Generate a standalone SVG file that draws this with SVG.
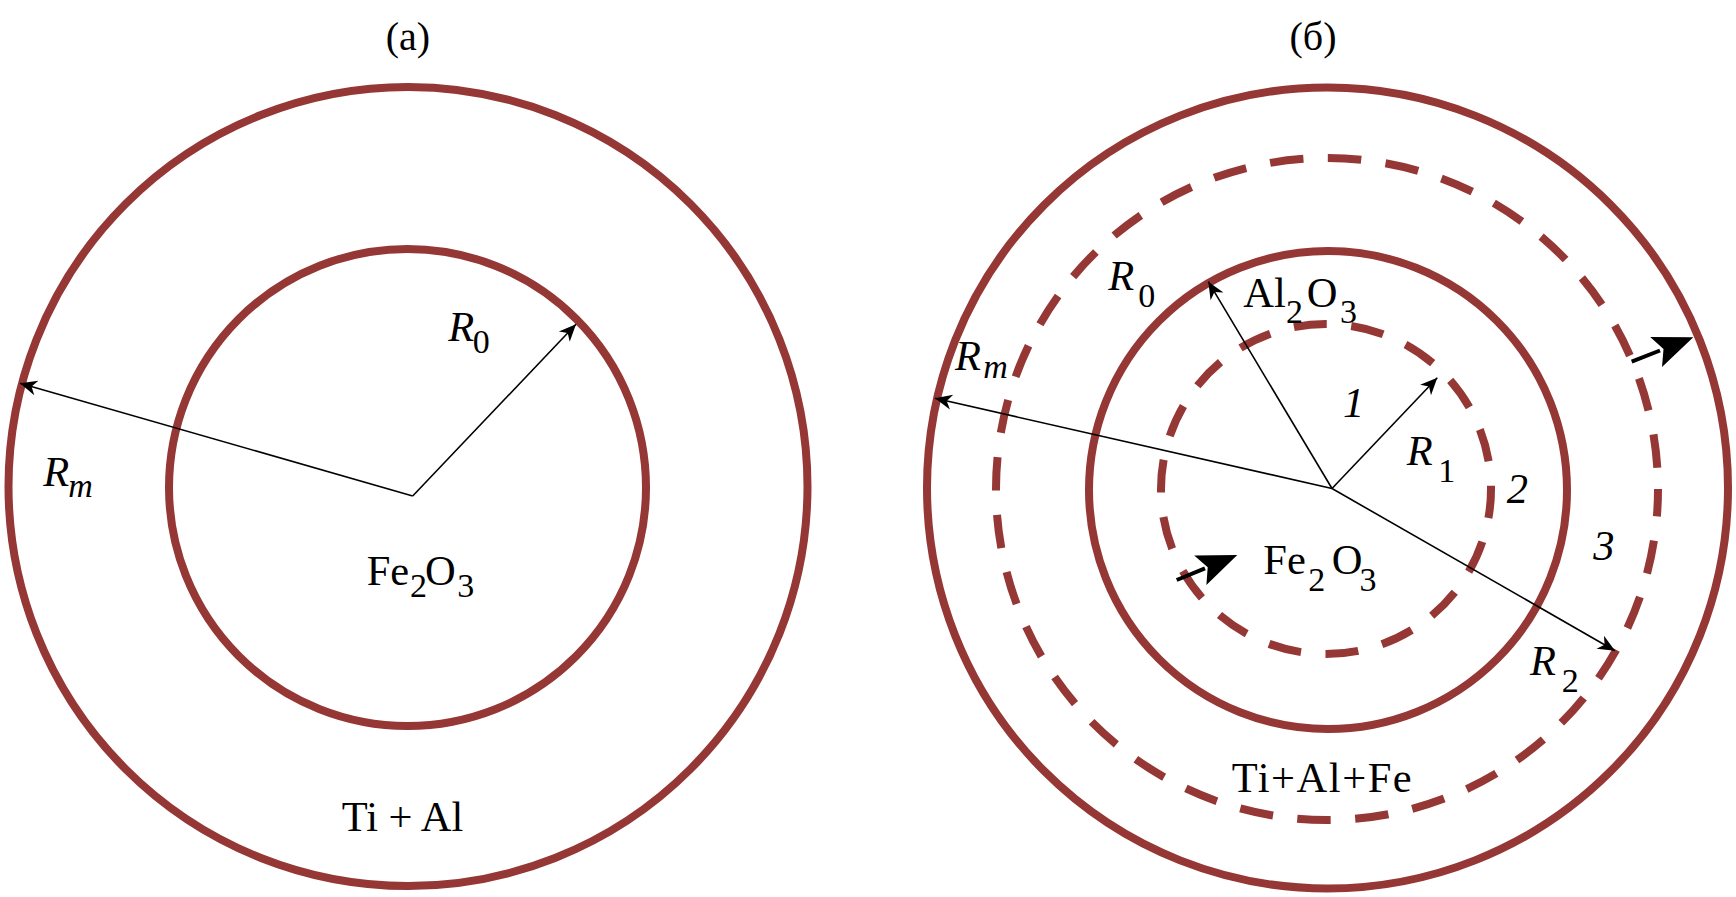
<svg xmlns="http://www.w3.org/2000/svg" width="1736" height="897" viewBox="0 0 1736 897" font-family="'Liberation Serif', 'Times New Roman', serif">
<style>
.ring{fill:none;stroke:#953735;stroke-width:8}
.dash1{fill:none;stroke:#953735;stroke-width:8;stroke-dasharray:33 24.6;stroke-dashoffset:3.8}
.dash2{fill:none;stroke:#953735;stroke-width:8;stroke-dasharray:33.5 24.5;stroke-dashoffset:6}
.rad{fill:none;stroke:#000;stroke-width:1.6;marker-end:url(#ah)}
.shaft{fill:none;stroke:#000;stroke-width:4}
.head{fill:#000;stroke:none}
.t{font-size:42.5px}
.s{font-size:34px;font-style:normal}
.i{font-style:italic}
.cap{font-size:40px}
</style>
<defs>
<marker id="ah" markerUnits="userSpaceOnUse" markerWidth="24" markerHeight="20" viewBox="-20 -10 24 20" refX="0" refY="0" orient="auto">
<path d="M0,0 L-17,-7.5 L-12,0 L-17,7.5 Z" fill="#000"/>
</marker>
</defs>
<rect width="1736" height="897" fill="#fff"/>

<g id="title-a"><text class="cap" x="408" y="50" text-anchor="middle">(a)</text></g>
<g id="title-b"><text class="cap" x="1313" y="50" text-anchor="middle">(б)</text></g>

<g id="a-outer"><circle class="ring" cx="408" cy="486.5" r="399.5"/></g>
<g id="a-core"><circle class="ring" cx="407.5" cy="487.5" r="238.5"/></g>

<g id="b-outer"><circle class="ring" cx="1327.5" cy="488" r="400.5"/></g>
<g id="b-front2"><circle class="dash2" cx="1327" cy="489" r="331"/></g>
<g id="b-core"><circle class="ring" cx="1328" cy="490" r="239"/></g>
<g id="b-front1"><circle class="dash1" cx="1326" cy="489" r="165"/></g>

<g id="connectors">
<line class="rad" x1="412.7" y1="496" x2="576" y2="324.3"/>
<line class="rad" x1="412.7" y1="496" x2="20" y2="383.3"/>
<line class="rad" x1="1332" y1="488.5" x2="1208.3" y2="281.7"/>
<line class="rad" x1="1332" y1="488.5" x2="1437.3" y2="377.7"/>
<line class="rad" x1="1332" y1="488.5" x2="935" y2="398.3"/>
<line class="rad" x1="1332" y1="488.5" x2="1615" y2="650.7"/>
<g id="front1-arrow">
<line class="shaft" x1="1176.7" y1="580" x2="1205" y2="568.3"/>
<polygon class="head" points="1237.3,555 1194.2,555.5 1207.7,567.2 1206.4,585.1"/>
</g>
<g id="front2-arrow">
<line class="shaft" x1="1631.7" y1="361.7" x2="1660" y2="350.5"/>
<polygon class="head" points="1693.3,337.3 1650.2,337.1 1663.5,349.1 1662,366.9"/>
</g>
</g>

<g id="a-labels">
<text class="t"><tspan class="i" x="448.3" y="341">R</tspan><tspan class="s" x="472.7" y="352.7">0</tspan></text>
<text class="t"><tspan class="i" x="43.3" y="485.7">R</tspan><tspan class="s i" x="68.3" y="496.7">m</tspan></text>
<text class="t"><tspan x="366.7" y="585">Fe</tspan><tspan class="s" x="410" y="596.7">2</tspan><tspan x="425" y="585">O</tspan><tspan class="s" x="457.3" y="596.7">3</tspan></text>
<text class="t" x="341.7" y="830.7">Ti + Al</text>
</g>

<g id="b-labels">
<text class="t"><tspan class="i" x="1108.3" y="290">R</tspan><tspan class="s" x="1138.3" y="306.7">0</tspan></text>
<text class="t"><tspan class="i" x="955" y="370">R</tspan><tspan class="s i" x="983.3" y="378.3">m</tspan></text>
<text class="t"><tspan x="1243.3" y="306.7">Al</tspan><tspan class="s" x="1286" y="323.3">2</tspan><tspan x="1306.7" y="306.7">O</tspan><tspan class="s" x="1340" y="323.3">3</tspan></text>
<text class="t i" x="1343" y="416.7">1</text>
<text class="t"><tspan class="i" x="1406.7" y="465">R</tspan><tspan class="s" x="1438.3" y="482">1</tspan></text>
<text class="t i" x="1506.7" y="503.3">2</text>
<text class="t i" x="1593.3" y="560">3</text>
<text class="t"><tspan class="i" x="1530" y="675">R</tspan><tspan class="s" x="1561.7" y="692.3">2</tspan></text>
<text class="t"><tspan x="1263.3" y="574">Fe</tspan><tspan class="s" x="1308.3" y="590.7">2</tspan><tspan x="1331.7" y="574">O</tspan><tspan class="s" x="1359.5" y="590.7">3</tspan></text>
<text class="t" x="1231.7" y="792.3" textLength="180" lengthAdjust="spacing">Ti+Al+Fe</text>
</g>
</svg>
